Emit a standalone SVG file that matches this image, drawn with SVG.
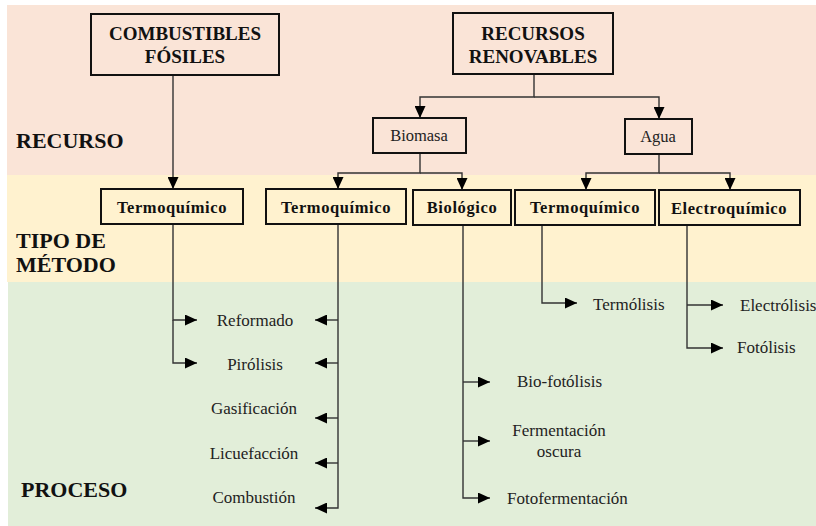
<svg xmlns="http://www.w3.org/2000/svg" width="816" height="526" viewBox="0 0 816 526">
<style>
.box{fill:none;stroke:#111;stroke-width:2}
text{font-family:"Liberation Serif","Times New Roman",Tinos,"DejaVu Serif","Noto Serif",serif}
.hdr{font-weight:bold;font-size:19px;fill:#111;text-anchor:middle}
.mid{font-size:16.5px;fill:#222;text-anchor:middle}
.meth{font-weight:bold;font-size:16.5px;letter-spacing:0.6px;fill:#111;text-anchor:middle}
.proc{font-size:17px;fill:#222}
.band{font-weight:bold;font-size:22px;fill:#111}
.con path{fill:none;stroke:#333;stroke-width:1.4}
</style>
<defs>
<marker id="ah" markerUnits="userSpaceOnUse" markerWidth="12" markerHeight="11" refX="12" refY="5.5" orient="auto">
<path d="M0,0 L12,5.5 L0,11 z" fill="#000"/>
</marker>
</defs>
<rect x="0" y="0" width="816" height="526" fill="#fff"/>
<rect x="7" y="5" width="809" height="170" fill="#fae4d7"/>
<rect x="7" y="175" width="809" height="107" fill="#fff2cf"/>
<rect x="8" y="282" width="808" height="244" fill="#e2eed9"/>

<g id="labels">
<text class="band" x="16" y="148">RECURSO</text>
<text class="band" x="16" y="248">TIPO DE</text>
<text class="band" x="16" y="272">MÉTODO</text>
<text class="band" x="21" y="497">PROCESO</text>
</g>

<g class="con" id="connectors">
<path d="M173,75 V189" marker-end="url(#ah)"/>
<path d="M534,74 V97 H420 V118" marker-end="url(#ah)"/>
<path d="M534,97 H659 V119" marker-end="url(#ah)"/>
<path d="M420,153 V173 H338 V189" marker-end="url(#ah)"/>
<path d="M420,173 H462 V190" marker-end="url(#ah)"/>
<path d="M659,154 V173 H586 V190" marker-end="url(#ah)"/>
<path d="M659,173 H730 V190" marker-end="url(#ah)"/>
<path d="M173,224 V320 H197" marker-end="url(#ah)"/>
<path d="M173,320 V363 H197" marker-end="url(#ah)"/>
<path d="M338,224 V508 H315" marker-end="url(#ah)"/>
<path d="M338,320 H315" marker-end="url(#ah)"/>
<path d="M338,363 H315" marker-end="url(#ah)"/>
<path d="M338,418 H315" marker-end="url(#ah)"/>
<path d="M338,463 H315" marker-end="url(#ah)"/>
<path d="M463,225 V498 H490" marker-end="url(#ah)"/>
<path d="M463,382 H490" marker-end="url(#ah)"/>
<path d="M463,441 H490" marker-end="url(#ah)"/>
<path d="M542,225 V303 H577" marker-end="url(#ah)"/>
<path d="M687,225 V348 H723" marker-end="url(#ah)"/>
<path d="M687,305 H723" marker-end="url(#ah)"/>
</g>

<g id="combustibles">
<rect class="box" x="91" y="14" width="188" height="61"/>
<text class="hdr" x="185" y="40">COMBUSTIBLES</text>
<text class="hdr" x="185" y="63">FÓSILES</text>
</g>
<g id="renovables">
<rect class="box" x="453" y="13" width="160" height="61"/>
<text class="hdr" x="533" y="40">RECURSOS</text>
<text class="hdr" x="533" y="63">RENOVABLES</text>
</g>
<g id="biomasa">
<rect class="box" x="373" y="118" width="93" height="35"/>
<text class="mid" x="419" y="141">Biomasa</text>
</g>
<g id="agua">
<rect class="box" x="625" y="119" width="67" height="35"/>
<text class="mid" x="658" y="142">Agua</text>
</g>
<g id="termo1">
<rect class="box" x="101" y="189" width="142" height="35"/>
<text class="meth" x="172" y="213">Termoquímico</text>
</g>
<g id="termo2">
<rect class="box" x="266" y="189" width="140" height="35"/>
<text class="meth" x="336" y="213">Termoquímico</text>
</g>
<g id="biologico">
<rect class="box" x="413" y="190" width="98" height="35"/>
<text class="meth" x="462" y="213">Biológico</text>
</g>
<g id="termo3">
<rect class="box" x="515" y="190" width="140" height="35"/>
<text class="meth" x="585" y="213">Termoquímico</text>
</g>
<g id="electro">
<rect class="box" x="659" y="190" width="141" height="35"/>
<text class="meth" x="729" y="214">Electroquímico</text>
</g>

<g id="procesos">
<text class="proc" x="255" y="326" text-anchor="middle">Reformado</text>
<text class="proc" x="255" y="370" text-anchor="middle">Pirólisis</text>
<text class="proc" x="254" y="414" text-anchor="middle">Gasificación</text>
<text class="proc" x="254" y="459" text-anchor="middle">Licuefacción</text>
<text class="proc" x="254" y="503" text-anchor="middle">Combustión</text>
<text class="proc" x="593" y="310">Termólisis</text>
<text class="proc" x="740" y="311">Electrólisis</text>
<text class="proc" x="737" y="353">Fotólisis</text>
<text class="proc" x="517" y="387">Bio-fotólisis</text>
<text class="proc" x="559" y="436" text-anchor="middle">Fermentación</text>
<text class="proc" x="559" y="457" text-anchor="middle">oscura</text>
<text class="proc" x="507" y="504">Fotofermentación</text>
</g>
</svg>
